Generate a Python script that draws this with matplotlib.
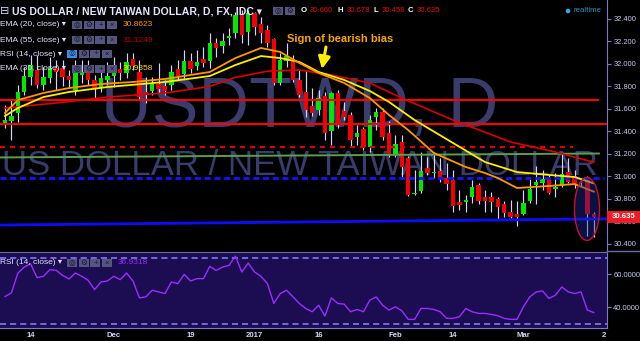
#!/usr/bin/env python
'''
USD/TWD daily candles (Nov 2016 - Mar 2017) with EMA 20/30/55, drawn levels and RSI(14)
'''
import numpy as np
import matplotlib
matplotlib.use('Agg')
import matplotlib.pyplot as plt
from matplotlib.patches import Rectangle, Ellipse
from matplotlib.lines import Line2D

plt.rcParams['font.family'] = ['Liberation Sans', 'DejaVu Sans']

W, H = 640, 341

# daily bars, 8 Nov 2016 .. 16 Mar 2017
opens = [31.474, 31.491, 31.563, 31.750, 31.883, 31.946, 31.812, 31.874, 31.963, 31.963,
         31.892, 31.768, 31.901, 31.919, 31.857, 31.785, 31.857, 31.892, 31.955, 31.919,
         32.044, 31.928, 31.750, 31.759, 31.821, 31.803, 31.812, 31.955, 31.910, 32.026,
         31.981, 32.044, 32.026, 32.186, 32.159, 32.231, 32.275, 32.435, 32.284, 32.453,
         32.355, 32.302, 32.222, 31.830, 32.026, 32.026, 31.857, 31.750, 31.625, 31.589,
         31.714, 31.402, 31.741, 31.581, 31.545, 31.349, 31.420, 31.260, 31.527, 31.572,
         31.385, 31.189, 31.305, 31.162, 30.841, 30.868, 31.073, 31.028, 31.046, 30.984,
         30.966, 30.770, 30.770, 30.815, 30.922, 30.815, 30.815, 30.797, 30.752, 30.681,
         30.663, 30.663, 30.779, 30.922, 30.939, 30.993, 30.886, 30.922, 31.037, 31.002,
         30.950, 30.984, 30.660]
highs = [31.634, 31.687, 31.812, 31.972, 32.079, 32.079, 31.972, 32.061, 32.035, 32.035,
         31.946, 32.035, 32.035, 32.035, 31.901, 31.963, 32.017, 32.061, 32.017, 32.097,
         32.097, 32.035, 31.883, 31.883, 32.008, 31.857, 31.990, 32.035, 32.124, 32.097,
         32.124, 32.150, 32.275, 32.231, 32.275, 32.320, 32.462, 32.480, 32.480, 32.462,
         32.418, 32.346, 32.231, 32.097, 32.186, 32.079, 31.946, 31.946, 31.785, 31.768,
         31.750, 31.750, 31.768, 31.661, 31.572, 31.456, 31.438, 31.545, 31.607, 31.607,
         31.492, 31.367, 31.367, 31.180, 31.055, 31.215, 31.171, 31.215, 31.162, 31.117,
         31.055, 30.877, 30.833, 30.966, 30.939, 30.877, 30.859, 30.815, 30.779, 30.788,
         30.779, 30.877, 30.975, 31.091, 31.055, 31.011, 31.028, 31.207, 31.162, 31.055,
         30.980, 31.002, 30.678]
lows = [31.429, 31.322, 31.483, 31.723, 31.812, 31.785, 31.768, 31.830, 31.768, 31.803,
        31.785, 31.723, 31.830, 31.812, 31.678, 31.750, 31.812, 31.794, 31.857, 31.874,
        31.946, 31.678, 31.652, 31.723, 31.741, 31.723, 31.768, 31.857, 31.874, 31.919,
        31.946, 31.972, 31.963, 32.061, 32.097, 32.168, 32.231, 32.186, 32.168, 32.257,
        32.186, 32.150, 31.812, 31.812, 31.972, 31.840, 31.705, 31.527, 31.536, 31.545,
        31.322, 31.278, 31.429, 31.500, 31.260, 31.278, 31.233, 31.215, 31.411, 31.322,
        31.171, 31.171, 30.993, 30.823, 30.833, 30.850, 31.011, 30.984, 30.948, 30.877,
        30.681, 30.699, 30.681, 30.761, 30.752, 30.681, 30.681, 30.610, 30.637, 30.628,
        30.556, 30.655, 30.761, 30.752, 30.877, 30.841, 30.815, 30.904, 30.939, 30.895,
        30.910, 30.470, 30.458]
closes = [31.500, 31.536, 31.750, 31.892, 31.990, 31.812, 31.883, 31.963, 31.928, 31.883,
          31.857, 31.972, 31.928, 31.857, 31.785, 31.874, 31.892, 31.963, 31.919, 32.017,
          31.981, 31.705, 31.723, 31.821, 31.776, 31.759, 31.928, 31.892, 32.026, 31.955,
          32.017, 32.008, 32.186, 32.142, 32.204, 32.248, 32.435, 32.257, 32.453, 32.329,
          32.275, 32.186, 31.830, 32.035, 32.070, 31.857, 31.723, 31.589, 31.563, 31.696,
          31.385, 31.741, 31.474, 31.527, 31.322, 31.385, 31.260, 31.500, 31.572, 31.349,
          31.189, 31.287, 31.082, 30.833, 30.850, 31.046, 31.028, 31.037, 30.984, 30.930,
          30.734, 30.743, 30.788, 30.904, 30.779, 30.779, 30.770, 30.726, 30.672, 30.637,
          30.637, 30.761, 30.886, 30.948, 30.975, 30.850, 30.904, 31.020, 30.948, 30.930,
          30.940, 30.663, 30.635]

# moving averages (bar index, value)
ema20_idx = [0, 2, 6, 10, 15, 20, 25, 32, 36, 40, 43, 46, 49, 53, 57, 60, 63, 67, 72, 75, 77, 80, 85, 89, 92]
ema20 = [31.563, 31.678, 31.741, 31.785, 31.821, 31.839, 31.866, 31.928, 32.052, 32.142, 32.106, 32.008,
         31.919, 31.830, 31.696, 31.545, 31.411, 31.207, 31.082, 31.028, 30.984, 30.895, 30.913, 30.930, 30.8623]
ema30_idx = [0, 2, 6, 10, 16, 25, 32, 36, 40, 43, 46, 49, 53, 57, 60, 64, 70, 75, 80, 85, 89, 92]
ema30 = [31.536, 31.607, 31.705, 31.750, 31.794, 31.839, 31.892, 31.990, 32.070, 32.052, 32.017,
         31.928, 31.857, 31.759, 31.661, 31.500, 31.296, 31.126, 31.037, 31.011, 30.993, 30.9358]
ema55_idx = [0, 8, 16, 25, 32, 36, 41, 46, 51, 57, 62, 70, 79, 86, 92]
ema55 = [31.607, 31.652, 31.705, 31.741, 31.800, 31.880, 31.935, 31.946, 31.901, 31.830, 31.696,
         31.500, 31.305, 31.215, 31.1249]

rsi = [46.6, 48.8, 60.6, 64.4, 66.4, 58.0, 58.8, 62.8, 62.4, 59.4,
       57.2, 60.8, 58.8, 56.4, 50.8, 55.4, 56.0, 58.8, 56.8, 60.8,
       56.0, 45.8, 46.4, 50.4, 49.4, 48.4, 55.4, 54.4, 60.0, 56.0,
       57.4, 57.4, 64.8, 62.4, 64.4, 65.4, 71.0, 61.4, 66.8, 61.4,
       58.8, 54.4, 42.4, 48.4, 50.4, 46.4, 42.4, 39.4, 37.4, 41.4,
       34.8, 45.8, 42.4, 42.0, 37.4, 38.8, 37.4, 44.4, 46.4, 41.4,
       38.4, 40.4, 38.0, 32.8, 32.8, 39.4, 39.4, 38.8, 37.4, 33.4,
       33.4, 34.4, 39.4, 37.4, 36.4, 36.4, 35.8, 35.0, 33.4, 32.8,
       32.8, 40.4, 46.4, 49.4, 50.0, 45.4, 47.4, 52.4, 49.4, 48.4,
       49.4, 38.4, 36.93]

# drawn levels
red_levels = [31.678, 31.469]
red_dash_level = 31.264
blue_dash_level = 30.984
green_line = [31.167, 31.202]
blue_line = [30.565, 30.620]
last_price = 30.635

price_ticks = [30.4, 30.6, 30.8, 31.0, 31.2, 31.4, 31.6, 31.8, 32.0, 32.2, 32.4]
rsi_ticks = [40, 60]
date_idx = [4, 17, 29, 39, 49, 61, 70, 81, 93.5]
date_labels = ['14', 'Dec', '19', '2017', '16', 'Feb', '14', 'Mar', '2']

BG = 'black'
AXIS = '#7a7acc'
TXT = '#c8c8f0'
UP, DOWN = '#00e800', '#f40000'
XMIN, XMAX = -0.78, 94.06


def fx(x):
    return x / W


def fy(y):
    return 1 - y / H


fig = plt.figure(figsize=(W / 100, H / 100), dpi=100, facecolor=BG)
ax = fig.add_axes([0, 90 / H, 607 / W, 251 / H], facecolor=BG)
ar = fig.add_axes([0, 13 / H, 607 / W, 76.5 / H], facecolor='#1c0c52')

# watermark
ax.text(fx(300), fy(127), 'USDTWD, D', transform=fig.transFigure, ha='center', va='baseline',
        fontsize=50.5, color='#393c6c', zorder=0)
ax.text(fx(300), fy(175), 'US DOLLAR / NEW TAIWAN DOLLAR', transform=fig.transFigure, ha='center',
        va='baseline', fontsize=25, color='#393c6c', zorder=0)

# candles
idx = np.arange(len(closes))
o = np.array(opens)
c = np.array(closes)
ax.vlines(idx, lows, highs, color='#d4d4ff', lw=0.85, zorder=2)
colors = [UP if cc >= oo else DOWN for oo, cc in zip(o, c)]
ax.bar(idx, np.maximum(np.abs(c - o), 0.008), bottom=np.minimum(o, c), width=0.7,
       color=colors, lw=0, zorder=3)

# drawn levels
ax.hlines(red_levels[0], XMIN, 92.8, color='#ff0000', lw=1.5, zorder=4)
ax.hlines(red_levels[1], XMIN, XMAX, color='#ff0000', lw=1.5, zorder=4)
ax.hlines(red_dash_level, XMIN, 88.7, color='#e00000', lw=1.5, linestyles=(0, (2.4, 2.4)), zorder=4)
ax.plot([XMIN, 92.8], green_line, color='#58a04e', lw=1.4, zorder=4)
ax.hlines(blue_dash_level, XMIN, 93.6, color='#1414ff', lw=2, linestyles=(0, (2.2, 1.3)), zorder=4)
ax.plot([XMIN, XMAX], blue_line, color='#0c0cff', lw=2, zorder=4)

# moving averages
ax.plot(ema55_idx, ema55, color='#dd0000', lw=1.2, zorder=5)
ax.plot(ema30_idx, ema30, color='#ffee00', lw=1.3, zorder=5)
ax.plot(ema20_idx, ema20, color='#ff9800', lw=1.3, zorder=5)

ax.set_xlim(XMIN, XMAX)
ax.set_ylim(30.334, 32.569)
ax.set_xticks([])
ax.set_yticks(price_ticks)
ax.set_yticklabels(['%.3f' % v for v in price_ticks])
ax.yaxis.tick_right()
ax.tick_params(axis='y', colors=AXIS, labelcolor=TXT, labelsize=5.4, length=3, width=0.8, pad=1.5)
for s in ['left', 'top', 'bottom']:
    ax.spines[s].set_visible(False)
ax.spines['right'].set_color(AXIS)

# RSI
ar.plot(idx, rsi, color='#9b2dff', lw=1, zorder=3)
for lvl in [70, 30]:
    ar.axhline(lvl, color='#8c84ff', lw=1.1, ls=(0, (4, 2.6)), zorder=2)
ar.set_xlim(XMIN, XMAX)
ar.set_ylim(27.6, 73.8)
ar.set_yticks(rsi_ticks)
ar.set_yticklabels(['%.4f' % v for v in rsi_ticks])
ar.yaxis.tick_right()
ar.set_xticks(date_idx)
ar.set_xticklabels(date_labels, fontweight='bold')
ar.tick_params(axis='y', colors=AXIS, labelcolor=TXT, labelsize=5.4, length=3, width=0.8, pad=1.5)
ar.tick_params(axis='x', colors=AXIS, labelcolor='#d6d6f6', labelsize=5.6, length=0, pad=3)
ar.spines['left'].set_visible(False)
ar.spines['top'].set_color('#6c6ca0')
ar.spines['right'].set_color(AXIS)
ar.spines['bottom'].set_color(AXIS)
fig.add_artist(Line2D([fx(607), 1], [fy(251), fy(251)], color='#6c6ca0', lw=1))

# last price tag
fig.add_artist(Rectangle((fx(607), fy(223)), 33 / W, 12 / H, transform=fig.transFigure,
                         fc='#ee1c24', ec='none', zorder=8))
fig.text(fx(623.5), fy(217), '%.3f' % last_price, ha='center', va='center', fontsize=5.6,
         fontweight='bold', color='white', zorder=9)

# ellipse round the last two bars
fig.add_artist(Ellipse((fx(587), fy(209)), 25 / W, 63 / H, transform=fig.transFigure,
                       fc=(0.1, 0.16, 0.62, 0.4), ec='#c8102e', lw=1, zorder=7))

# annotation
fig.text(fx(287), fy(39), 'Sign of bearish bias', ha='left', va='center', fontsize=8,
         fontweight='bold', color='#f7a600', zorder=9)
ax.annotate('', xy=(322, H - 69), xycoords='figure pixels', xytext=(326, H - 47),
            textcoords='figure pixels', annotation_clip=False,
            arrowprops=dict(arrowstyle='-|>,head_width=0.35,head_length=0.7', color='#fff000',
                            lw=2.2, shrinkA=0, shrinkB=0), zorder=9)


# header and legends
def button(x, y, glyph, fc='#55557f'):
    fig.add_artist(Rectangle((fx(x), fy(y + 4.3)), 10 / W, 8.6 / H, transform=fig.transFigure,
                             fc=fc, ec='none', zorder=8))
    fig.text(fx(x + 5), fy(y), glyph, ha='center', va='center', fontsize=5.5, color='#15152a',
             zorder=9)


def buttons(x, y, first='#55557f'):
    for k, g in enumerate(['◎', '⚙', '+', '×']):
        button(x + k * 11.7, y, g, first if k == 0 else '#55557f')


fig.text(fx(0), fy(11), '⊟', ha='left', va='center', fontsize=8, color='#d8d8ff', zorder=9)
fig.text(fx(12), fy(11.5), 'US DOLLAR / NEW TAIWAN DOLLAR, D, FX, IDC ▾', ha='left', va='center',
         fontsize=7.6, fontweight='bold', color='#e4e4ff', zorder=9)
button(273, 11, '◎')
button(285, 11, '⚙')
for x, s, col in [(301, 'O', 'white'), (310, '30.660', '#e01010'), (337, 'H', 'white'),
                  (347, '30.678', '#e01010'), (373, 'L', 'white'), (382, '30.458', '#e01010'),
                  (408, 'C', 'white'), (417, '30.635', '#e01010')]:
    fig.text(fx(x), fy(11), s, ha='left', va='center', fontsize=5.6,
             fontweight='bold' if len(s) == 1 else 'normal', color=col, zorder=9)
fig.add_artist(Ellipse((fx(568), fy(11)), 4.6 / W, 4.6 / H, transform=fig.transFigure,
                       fc='#35a7e0', ec='none'))
fig.text(fx(574), fy(11), 'realtime', ha='left', va='center', fontsize=5.6, color='#3a90c0')

rows = [(25, 'EMA (20, close) ▾', '30.8623', '#ff9800', 72),
        (40, 'EMA (55, close) ▾', '31.1249', '#c00000', 72),
        (54, 'RSI (14, close) ▾', None, None, 67),
        (69, 'EMA (30, close) ▾', '30.9358', '#f2e200', 72),
        (263, 'RSI (14, close) ▾', '36.9318', '#9b2dff', 67)]
for y, name, val, col, bx in rows:
    fig.text(fx(0), fy(y), name, ha='left', va='center', fontsize=6, color='#e2e2ff', zorder=9)
    buttons(bx, y, '#3a8ee6' if val is None else '#55557f')
    if val:
        fig.text(fx(bx + 51), fy(y), val, ha='left', va='center', fontsize=6, color=col, zorder=9)

fig.savefig('out.png', dpi=100, facecolor=BG)
